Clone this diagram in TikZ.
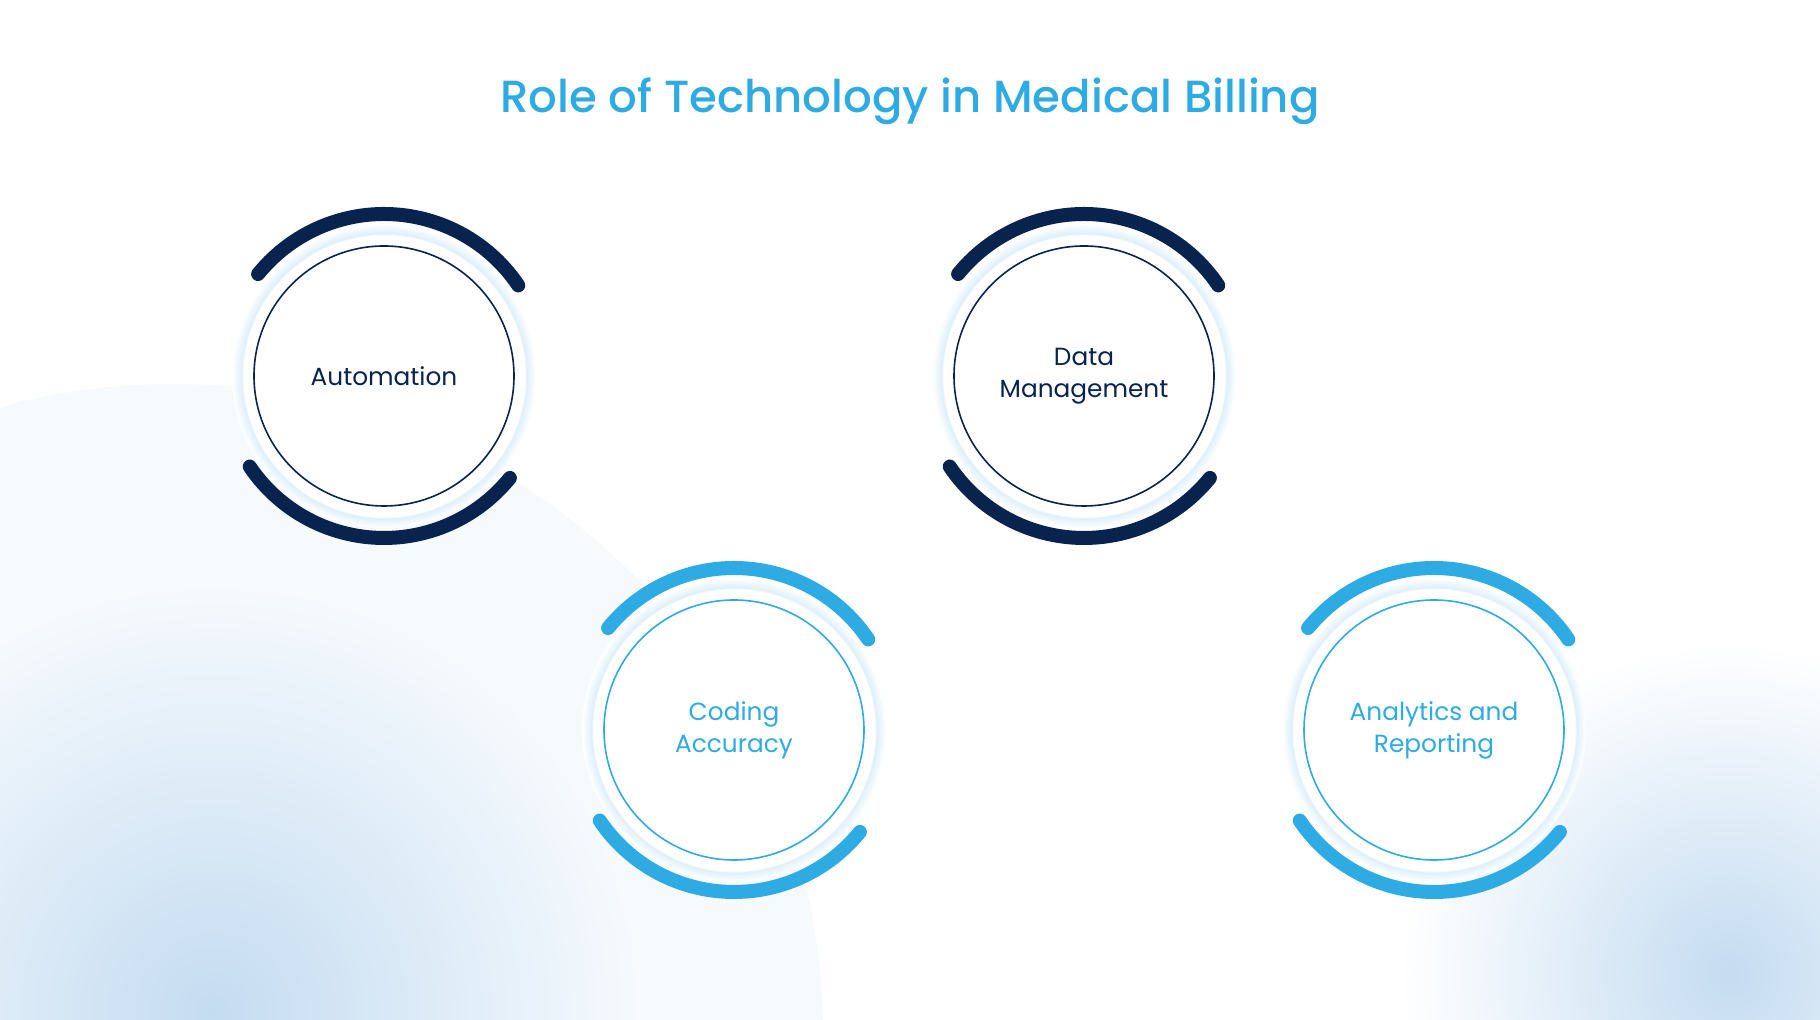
\documentclass[tikz,border=0pt]{standalone}
\usepackage{fontspec}
\setmainfont{Poppins}
\newfontfamily\titlefont{Poppins}[UprightFont=* Medium]
\usepackage{tikz}
\usetikzlibrary{calc}

\definecolor{navy}{HTML}{08244E}
\definecolor{skyblue}{HTML}{2EABE2}
\definecolor{halo}{HTML}{DDEFFA}
\definecolor{bglight}{HTML}{F6FAFD}
\definecolor{blob}{HTML}{C4DCF1}
\pgfdeclareradialshading{halo}{\pgfpoint{0bp}{0bp}}{color(0bp)=(white); color(23.2bp)=(white); color(23.4bp)=(halo); color(25bp)=(white); color(50bp)=(white)}

\begin{document}
\begin{tikzpicture}[x=0.5pt,y=0.5pt,
  topic/.style={circle,draw,fill=white,minimum size=130pt,inner sep=0pt,line width=0.8pt,align=center,font=\fontsize{12.4}{16}\selectfont},
  ring/.style={line width=7pt,line cap=round},
  glow/.style={shading=halo}]
\useasboundingbox (0,0) rectangle (1820,1020);
\clip (0,0) rectangle (1820,1020);

% background
\fill[white] (0,0) rectangle (1820,1020);
\fill[bglight] (173,-14) circle (650);
\shade[inner color=blob,outer color=bglight] (213,9) circle (430);
\shade[inner color=blob,outer color=white] (1730,47) circle (330);

\coordinate (A) at (384,644);
\coordinate (B) at (1084,644);
\coordinate (C) at (734,290);
\coordinate (D) at (1434,290);

\shade[glow] (A) circle (152);
\shade[glow] (B) circle (152);
\shade[glow] (C) circle (152);
\shade[glow] (D) circle (152);

\draw[ring,navy] ($(A)+(34:162)$) arc[start angle=34,end angle=141,radius=162];
\draw[ring,navy] ($(A)+(214:162)$) arc[start angle=214,end angle=321,radius=162];
\draw[ring,navy] ($(B)+(34:162)$) arc[start angle=34,end angle=141,radius=162];
\draw[ring,navy] ($(B)+(214:162)$) arc[start angle=214,end angle=321,radius=162];
\draw[ring,skyblue] ($(C)+(34:162)$) arc[start angle=34,end angle=141,radius=162];
\draw[ring,skyblue] ($(C)+(214:162)$) arc[start angle=214,end angle=321,radius=162];
\draw[ring,skyblue] ($(D)+(34:162)$) arc[start angle=34,end angle=141,radius=162];
\draw[ring,skyblue] ($(D)+(214:162)$) arc[start angle=214,end angle=321,radius=162];

\node[topic,draw=navy,text=navy] (auto) at (A) {Automation};
\node[topic,draw=navy,text=navy] (data) at (B) {Data\\Management};
\node[topic,draw=skyblue,text=skyblue] (coding) at (C) {Coding\\Accuracy};
\node[topic,draw=skyblue,text=skyblue] (analytics) at (D) {Analytics and\\Reporting};

\node[anchor=base,text=skyblue,font=\titlefont\fontsize{22.5}{27}\selectfont] (title) at (910,907) {Role of Technology in Medical Billing};

  \end{tikzpicture}
\end{document}
